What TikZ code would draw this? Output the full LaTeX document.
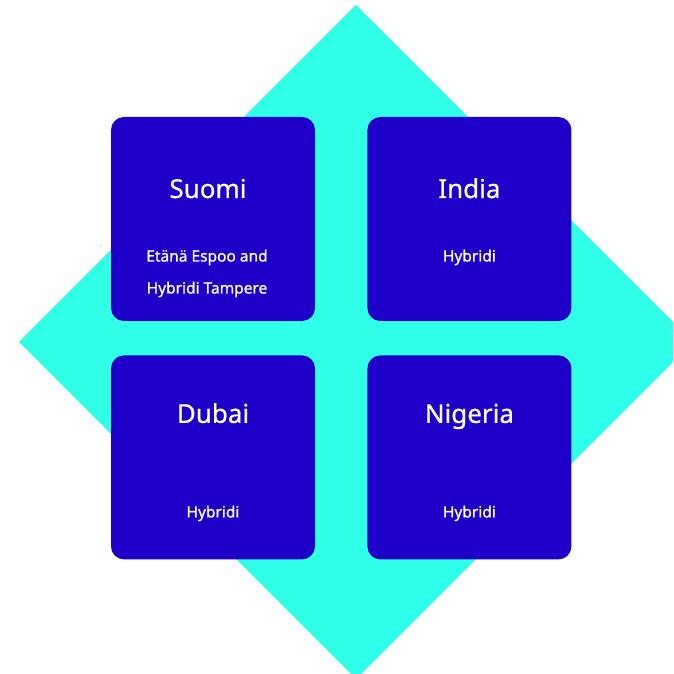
\documentclass[tikz,border=0pt]{standalone}
\usepackage{fontspec}
\setmainfont{Noto Sans}
\newfontfamily\medfont[FakeBold=1]{Noto Sans}
\newfontfamily\headfont[FakeBold=0.6]{Noto Sans}
\usepackage{tikz}
\usetikzlibrary{positioning}
\definecolor{aqua}{RGB}{46,255,230}
\definecolor{royal}{RGB}{30,0,200}
\tikzset{
    x=1pt, y=1pt,
    card/.style={fill=royal, rounded corners=13pt, minimum size=204pt, inner sep=0pt},
    title/.style={text=white, font=\headfont\fontsize{26}{30}\selectfont, inner sep=0pt, anchor=base},
    info/.style={text=white, font=\medfont\fontsize{15.5}{18}\selectfont, inner sep=0pt, anchor=base}
}

\begin{document}
\begin{tikzpicture}
        \useasboundingbox (0,0) rectangle (673,674);
        \clip (0,0) rectangle (673,674);
        \fill[aqua] (356,669) -- (693,332) -- (356,-5) -- (19,332) -- cycle;

        \node (suomi) [card] at (213,455) {};
        \node (india) [card, right = 52pt of suomi] {};
        \node (dubai) [card, below = 34pt of suomi] {};
        \node (nigeria) [card, right = 52pt of dubai] {};

        \node (suomititle) [title] at ([xshift=-5pt, yshift=21pt]suomi.center) {Suomi};
        \node (suomiinfoa) [info] at ([xshift=-6pt, yshift=-42.5pt]suomi.center) {Etänä Espoo and};
        \node (suomiinfob) [info] at ([xshift=-6pt, yshift=-74.5pt]suomi.center) {Hybridi Tampere};
        \node (indiatitle) [title] at ([yshift=21pt]india.center) {India};
        \node (indiainfo) [info] at ([yshift=-42.5pt]india.center) {Hybridi};
        \node (dubaititle) [title] at ([yshift=34.5pt]dubai.center) {Dubai};
        \node (dubaiinfo) [info] at ([yshift=-60pt]dubai.center) {Hybridi};
        \node (nigeriatitle) [title] at ([yshift=34.5pt]nigeria.center) {Nigeria};
        \node (nigeriainfo) [info] at ([yshift=-60pt]nigeria.center) {Hybridi};
    \end{tikzpicture}
\end{document}
